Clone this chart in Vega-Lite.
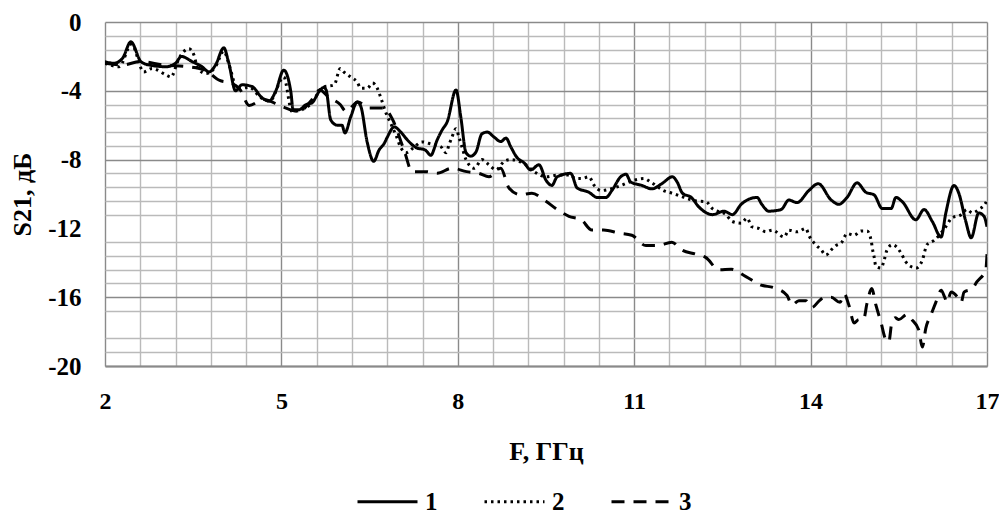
{
  "$schema": "https://vega.github.io/schema/vega-lite/v6.json",
  "width": 882,
  "height": 344,
  "padding": {"left": 9, "top": 10, "right": 0, "bottom": 5},
  "background": "white",
  "config": {"view": {"stroke": null}, "font": "Liberation Serif"},
  "data": {"values": [
    {"series":"1","f":2.0,"s":-2.3},{"series":"1","f":2.15,"s":-2.4},{"series":"1","f":2.3,"s":-2.1},{"series":"1","f":2.44,"s":-1.15},{"series":"1","f":2.61,"s":-2.3},{"series":"1","f":2.75,"s":-2.5},{"series":"1","f":3.04,"s":-2.6},{"series":"1","f":3.2,"s":-2.4},{"series":"1","f":3.3,"s":-2.0},{"series":"1","f":3.48,"s":-2.3},{"series":"1","f":3.65,"s":-2.6},{"series":"1","f":3.77,"s":-2.9},{"series":"1","f":3.88,"s":-2.5},{"series":"1","f":4.02,"s":-1.5},{"series":"1","f":4.1,"s":-2.3},{"series":"1","f":4.22,"s":-4.0},{"series":"1","f":4.33,"s":-3.65},{"series":"1","f":4.5,"s":-3.75},{"series":"1","f":4.67,"s":-4.4},{"series":"1","f":4.79,"s":-4.6},{"series":"1","f":4.9,"s":-4.05},{"series":"1","f":5.04,"s":-2.8},{"series":"1","f":5.16,"s":-4.05},{"series":"1","f":5.2,"s":-5.1},{"series":"1","f":5.3,"s":-5.1},{"series":"1","f":5.42,"s":-4.8},{"series":"1","f":5.52,"s":-4.7},{"series":"1","f":5.64,"s":-4.05},{"series":"1","f":5.72,"s":-3.8},{"series":"1","f":5.76,"s":-3.95},{"series":"1","f":5.84,"s":-5.7},{"series":"1","f":5.95,"s":-6.0},{"series":"1","f":6.03,"s":-6.0},{"series":"1","f":6.08,"s":-6.45},{"series":"1","f":6.18,"s":-5.5},{"series":"1","f":6.29,"s":-4.65},{"series":"1","f":6.35,"s":-4.9},{"series":"1","f":6.46,"s":-7.0},{"series":"1","f":6.57,"s":-8.1},{"series":"1","f":6.66,"s":-7.45},{"series":"1","f":6.75,"s":-7.05},{"series":"1","f":6.8,"s":-6.7},{"series":"1","f":6.92,"s":-6.1},{"series":"1","f":7.03,"s":-6.4},{"series":"1","f":7.14,"s":-6.85},{"series":"1","f":7.29,"s":-7.3},{"series":"1","f":7.45,"s":-7.45},{"series":"1","f":7.54,"s":-7.75},{"series":"1","f":7.65,"s":-6.85},{"series":"1","f":7.73,"s":-6.3},{"series":"1","f":7.82,"s":-5.8},{"series":"1","f":7.97,"s":-3.95},{"series":"1","f":8.05,"s":-5.5},{"series":"1","f":8.14,"s":-7.6},{"series":"1","f":8.22,"s":-7.8},{"series":"1","f":8.31,"s":-7.55},{"series":"1","f":8.41,"s":-6.5},{"series":"1","f":8.5,"s":-6.4},{"series":"1","f":8.62,"s":-6.7},{"series":"1","f":8.73,"s":-6.95},{"series":"1","f":8.82,"s":-6.75},{"series":"1","f":8.9,"s":-7.25},{"series":"1","f":9.0,"s":-7.85},{"series":"1","f":9.13,"s":-8.2},{"series":"1","f":9.24,"s":-8.6},{"series":"1","f":9.38,"s":-8.3},{"series":"1","f":9.5,"s":-9.2},{"series":"1","f":9.6,"s":-9.5},{"series":"1","f":9.69,"s":-9.0},{"series":"1","f":9.92,"s":-8.8},{"series":"1","f":10.03,"s":-9.65},{"series":"1","f":10.23,"s":-9.9},{"series":"1","f":10.37,"s":-10.2},{"series":"1","f":10.52,"s":-10.2},{"series":"1","f":10.62,"s":-9.8},{"series":"1","f":10.77,"s":-9.0},{"series":"1","f":10.86,"s":-8.85},{"series":"1","f":10.94,"s":-9.3},{"series":"1","f":11.13,"s":-9.5},{"series":"1","f":11.3,"s":-9.7},{"series":"1","f":11.47,"s":-9.4},{"series":"1","f":11.65,"s":-9.0},{"series":"1","f":11.73,"s":-9.3},{"series":"1","f":11.82,"s":-9.95},{"series":"1","f":11.97,"s":-10.2},{"series":"1","f":12.1,"s":-10.75},{"series":"1","f":12.33,"s":-11.2},{"series":"1","f":12.53,"s":-11.0},{"series":"1","f":12.67,"s":-11.2},{"series":"1","f":12.82,"s":-10.6},{"series":"1","f":12.92,"s":-10.35},{"series":"1","f":13.09,"s":-10.2},{"series":"1","f":13.17,"s":-10.6},{"series":"1","f":13.29,"s":-11.0},{"series":"1","f":13.5,"s":-10.9},{"series":"1","f":13.63,"s":-10.35},{"series":"1","f":13.77,"s":-10.5},{"series":"1","f":13.97,"s":-9.8},{"series":"1","f":14.13,"s":-9.4},{"series":"1","f":14.35,"s":-10.35},{"series":"1","f":14.48,"s":-10.6},{"series":"1","f":14.62,"s":-10.2},{"series":"1","f":14.79,"s":-9.35},{"series":"1","f":14.94,"s":-9.9},{"series":"1","f":15.08,"s":-10.05},{"series":"1","f":15.22,"s":-10.85},{"series":"1","f":15.37,"s":-10.85},{"series":"1","f":15.45,"s":-10.2},{"series":"1","f":15.56,"s":-10.45},{"series":"1","f":15.79,"s":-11.5},{"series":"1","f":15.93,"s":-10.9},{"series":"1","f":16.07,"s":-11.6},{"series":"1","f":16.22,"s":-12.5},{"series":"1","f":16.3,"s":-11.1},{"series":"1","f":16.44,"s":-9.5},{"series":"1","f":16.52,"s":-9.95},{"series":"1","f":16.64,"s":-11.6},{"series":"1","f":16.73,"s":-12.55},{"series":"1","f":16.86,"s":-11.1},{"series":"1","f":16.95,"s":-11.3},{"series":"1","f":17.0,"s":-11.9},

    {"series":"2","f":2.0,"s":-2.4},{"series":"2","f":2.24,"s":-2.6},{"series":"2","f":2.45,"s":-1.3},{"series":"2","f":2.66,"s":-2.9},{"series":"2","f":2.8,"s":-2.7},{"series":"2","f":3.05,"s":-3.1},{"series":"2","f":3.12,"s":-3.2},{"series":"2","f":3.26,"s":-2.1},{"series":"2","f":3.43,"s":-1.55},{"series":"2","f":3.51,"s":-1.9},{"series":"2","f":3.58,"s":-2.7},{"series":"2","f":3.72,"s":-3.0},{"series":"2","f":3.88,"s":-2.6},{"series":"2","f":4.02,"s":-1.7},{"series":"2","f":4.12,"s":-2.6},{"series":"2","f":4.25,"s":-3.9},{"series":"2","f":4.45,"s":-3.8},{"series":"2","f":4.65,"s":-4.4},{"series":"2","f":4.8,"s":-4.6},{"series":"2","f":5.04,"s":-3.2},{"series":"2","f":5.18,"s":-5.2},{"series":"2","f":5.35,"s":-5.1},{"series":"2","f":5.52,"s":-4.7},{"series":"2","f":5.7,"s":-3.8},{"series":"2","f":5.9,"s":-3.65},{"series":"2","f":6.0,"s":-2.7},{"series":"2","f":6.06,"s":-2.9},{"series":"2","f":6.18,"s":-3.2},{"series":"2","f":6.29,"s":-3.5},{"series":"2","f":6.35,"s":-3.85},{"series":"2","f":6.46,"s":-3.85},{"series":"2","f":6.55,"s":-3.55},{"series":"2","f":6.63,"s":-3.85},{"series":"2","f":6.7,"s":-4.5},{"series":"2","f":6.78,"s":-5.3},{"series":"2","f":6.86,"s":-5.9},{"series":"2","f":6.95,"s":-6.6},{"series":"2","f":7.03,"s":-7.3},{"series":"2","f":7.12,"s":-7.6},{"series":"2","f":7.25,"s":-7.3},{"series":"2","f":7.39,"s":-6.97},{"series":"2","f":7.55,"s":-7.1},{"series":"2","f":7.71,"s":-7.25},{"series":"2","f":7.8,"s":-7.6},{"series":"2","f":7.85,"s":-7.15},{"series":"2","f":7.9,"s":-6.7},{"series":"2","f":7.97,"s":-6.2},{"series":"2","f":8.02,"s":-6.7},{"series":"2","f":8.07,"s":-7.25},{"series":"2","f":8.14,"s":-8.0},{"series":"2","f":8.28,"s":-8.5},{"series":"2","f":8.41,"s":-8.0},{"series":"2","f":8.53,"s":-8.3},{"series":"2","f":8.65,"s":-8.6},{"series":"2","f":8.79,"s":-8.1},{"series":"2","f":8.9,"s":-8.0},{"series":"2","f":9.04,"s":-8.1},{"series":"2","f":9.16,"s":-8.3},{"series":"2","f":9.3,"s":-8.7},{"series":"2","f":9.5,"s":-9.0},{"series":"2","f":9.7,"s":-8.9},{"series":"2","f":9.9,"s":-8.9},{"series":"2","f":10.01,"s":-9.1},{"series":"2","f":10.11,"s":-9.1},{"series":"2","f":10.23,"s":-9.0},{"series":"2","f":10.32,"s":-9.5},{"series":"2","f":10.44,"s":-9.8},{"series":"2","f":10.6,"s":-9.7},{"series":"2","f":10.78,"s":-9.5},{"series":"2","f":11.0,"s":-9.2},{"series":"2","f":11.17,"s":-9.1},{"series":"2","f":11.28,"s":-9.3},{"series":"2","f":11.5,"s":-9.8},{"series":"2","f":11.64,"s":-9.95},{"series":"2","f":11.85,"s":-10.2},{"series":"2","f":12.05,"s":-10.4},{"series":"2","f":12.22,"s":-10.45},{"series":"2","f":12.33,"s":-10.85},{"series":"2","f":12.56,"s":-11.2},{"series":"2","f":12.67,"s":-11.6},{"series":"2","f":12.82,"s":-11.7},{"series":"2","f":12.92,"s":-11.4},{"series":"2","f":13.0,"s":-11.9},{"series":"2","f":13.12,"s":-12.0},{"series":"2","f":13.24,"s":-12.2},{"series":"2","f":13.35,"s":-12.1},{"series":"2","f":13.55,"s":-12.5},{"series":"2","f":13.63,"s":-12.1},{"series":"2","f":13.77,"s":-12.2},{"series":"2","f":13.92,"s":-12.0},{"series":"2","f":13.97,"s":-12.4},{"series":"2","f":14.06,"s":-12.85},{"series":"2","f":14.18,"s":-13.25},{"series":"2","f":14.26,"s":-13.55},{"series":"2","f":14.35,"s":-13.25},{"series":"2","f":14.43,"s":-13.0},{"series":"2","f":14.53,"s":-12.8},{"series":"2","f":14.62,"s":-12.3},{"series":"2","f":14.74,"s":-12.4},{"series":"2","f":14.86,"s":-12.15},{"series":"2","f":14.96,"s":-12.15},{"series":"2","f":15.03,"s":-12.7},{"series":"2","f":15.05,"s":-13.15},{"series":"2","f":15.08,"s":-13.65},{"series":"2","f":15.11,"s":-14.2},{"series":"2","f":15.2,"s":-14.3},{"series":"2","f":15.25,"s":-13.85},{"series":"2","f":15.3,"s":-13.25},{"series":"2","f":15.39,"s":-12.95},{"series":"2","f":15.47,"s":-13.1},{"series":"2","f":15.54,"s":-13.45},{"series":"2","f":15.62,"s":-13.95},{"series":"2","f":15.7,"s":-14.2},{"series":"2","f":15.8,"s":-14.3},{"series":"2","f":15.9,"s":-13.85},{"series":"2","f":15.98,"s":-12.95},{"series":"2","f":16.1,"s":-12.7},{"series":"2","f":16.3,"s":-11.9},{"series":"2","f":16.4,"s":-11.4},{"series":"2","f":16.56,"s":-11.2},{"series":"2","f":16.66,"s":-10.9},{"series":"2","f":16.75,"s":-11.1},{"series":"2","f":16.86,"s":-10.9},{"series":"2","f":16.98,"s":-10.5},{"series":"2","f":17.0,"s":-10.3},

    {"series":"3","f":2.0,"s":-2.4},{"series":"3","f":2.3,"s":-2.5},{"series":"3","f":2.6,"s":-2.3},{"series":"3","f":3.0,"s":-2.5},{"series":"3","f":3.4,"s":-2.6},{"series":"3","f":3.7,"s":-2.8},{"series":"3","f":3.95,"s":-3.4},{"series":"3","f":4.15,"s":-3.55},{"series":"3","f":4.3,"s":-3.95},{"series":"3","f":4.45,"s":-4.85},{"series":"3","f":4.7,"s":-4.5},{"series":"3","f":5.0,"s":-4.9},{"series":"3","f":5.3,"s":-5.2},{"series":"3","f":5.5,"s":-4.6},{"series":"3","f":5.65,"s":-3.95},{"series":"3","f":5.8,"s":-4.35},{"series":"3","f":6.0,"s":-4.8},{"series":"3","f":6.1,"s":-5.2},{"series":"3","f":6.3,"s":-4.65},{"series":"3","f":6.5,"s":-5.0},{"series":"3","f":6.75,"s":-5.0},{"series":"3","f":6.88,"s":-5.6},{"series":"3","f":7.1,"s":-7.6},{"series":"3","f":7.22,"s":-8.7},{"series":"3","f":7.45,"s":-8.7},{"series":"3","f":7.65,"s":-8.8},{"series":"3","f":7.9,"s":-8.5},{"series":"3","f":8.15,"s":-8.7},{"series":"3","f":8.36,"s":-8.8},{"series":"3","f":8.53,"s":-9.0},{"series":"3","f":8.73,"s":-8.5},{"series":"3","f":8.87,"s":-9.65},{"series":"3","f":9.07,"s":-10.05},{"series":"3","f":9.26,"s":-9.95},{"series":"3","f":9.47,"s":-10.35},{"series":"3","f":9.69,"s":-10.9},{"series":"3","f":9.89,"s":-11.3},{"series":"3","f":10.1,"s":-11.5},{"series":"3","f":10.28,"s":-12.1},{"series":"3","f":10.48,"s":-12.1},{"series":"3","f":10.74,"s":-12.27},{"series":"3","f":10.96,"s":-12.4},{"series":"3","f":11.2,"s":-13.0},{"series":"3","f":11.4,"s":-13.0},{"series":"3","f":11.64,"s":-12.8},{"series":"3","f":11.81,"s":-13.25},{"series":"3","f":12.05,"s":-13.5},{"series":"3","f":12.22,"s":-13.7},{"series":"3","f":12.44,"s":-14.4},{"series":"3","f":12.65,"s":-14.37},{"series":"3","f":12.9,"s":-14.8},{"series":"3","f":13.16,"s":-15.3},{"series":"3","f":13.38,"s":-15.45},{"series":"3","f":13.6,"s":-15.9},{"series":"3","f":13.68,"s":-16.45},{"series":"3","f":13.8,"s":-16.2},{"series":"3","f":13.92,"s":-16.2},{"series":"3","f":14.02,"s":-16.6},{"series":"3","f":14.15,"s":-16.2},{"series":"3","f":14.23,"s":-16.0},{"series":"3","f":14.35,"s":-16.0},{"series":"3","f":14.5,"s":-16.3},{"series":"3","f":14.57,"s":-15.8},{"series":"3","f":14.65,"s":-16.45},{"series":"3","f":14.74,"s":-17.5},{"series":"3","f":14.82,"s":-17.3},{"series":"3","f":14.9,"s":-17.3},{"series":"3","f":14.96,"s":-16.35},{"series":"3","f":15.04,"s":-15.5},{"series":"3","f":15.11,"s":-16.45},{"series":"3","f":15.2,"s":-17.5},{"series":"3","f":15.27,"s":-18.4},{"series":"3","f":15.33,"s":-18.6},{"series":"3","f":15.38,"s":-17.5},{"series":"3","f":15.44,"s":-17.2},{"series":"3","f":15.5,"s":-17.3},{"series":"3","f":15.64,"s":-17.0},{"series":"3","f":15.72,"s":-17.3},{"series":"3","f":15.84,"s":-17.9},{"series":"3","f":15.9,"s":-18.9},{"series":"3","f":15.96,"s":-17.8},{"series":"3","f":16.05,"s":-17.0},{"series":"3","f":16.13,"s":-16.3},{"series":"3","f":16.22,"s":-15.6},{"series":"3","f":16.28,"s":-16.0},{"series":"3","f":16.32,"s":-16.3},{"series":"3","f":16.39,"s":-15.7},{"series":"3","f":16.5,"s":-16.0},{"series":"3","f":16.56,"s":-16.3},{"series":"3","f":16.61,"s":-15.7},{"series":"3","f":16.75,"s":-15.5},{"series":"3","f":16.83,"s":-15.1},{"series":"3","f":16.98,"s":-14.4},{"series":"3","f":17.0,"s":-13.5}
  ]},
  "mark": {"type": "line", "interpolate": "monotone", "strokeWidth": 3, "color": "black", "clip": true},
  "encoding": {
    "x": {
      "field": "f", "type": "quantitative",
      "scale": {"domain": [2, 17], "nice": false, "zero": false},
      "axis": {
        "values": [2,2.6,3.2,3.8,4.4,5,5.6,6.2,6.8,7.4,8,8.6,9.2,9.8,10.4,11,11.6,12.2,12.8,13.4,14,14.6,15.2,15.8,16.4,17],
        "labelExpr": "abs((datum.value-2)/3 - round((datum.value-2)/3)) < 0.01 ? toString(datum.value) : ''",
        "grid": true,
        "gridColor": {"condition": {"test": "abs((datum.value-2)/3 - round((datum.value-2)/3)) < 0.01", "value": "#8a8a8a"}, "value": "#bababa"},
        "gridWidth": 1.4,
        "ticks": false,
        "domain": true, "domainColor": "#8a8a8a", "domainWidth": 2,
        "labelFont": "Liberation Serif", "labelFontSize": 24, "labelFontWeight": "bold", "labelColor": "black",
        "labelPadding": 23, "labelFlush": false, "labelOverlap": false,
        "title": "F, ГГц", "titleFont": "Liberation Serif", "titleFontSize": 26, "titleFontWeight": "bold", "titleColor": "black", "titlePadding": 25
      }
    },
    "y": {
      "field": "s", "type": "quantitative",
      "scale": {"domain": [-20, 0], "nice": false, "zero": false},
      "axis": {
        "values": [0,-0.8,-1.6,-2.4,-3.2,-4,-4.8,-5.6,-6.4,-7.2,-8,-8.8,-9.6,-10.4,-11.2,-12,-12.8,-13.6,-14.4,-15.2,-16,-16.8,-17.6,-18.4,-19.2,-20],
        "labelExpr": "abs(datum.value/4 - round(datum.value/4)) < 0.001 ? toString(datum.value) : ''",
        "grid": true,
        "gridColor": {"condition": {"test": "abs(datum.value/4 - round(datum.value/4)) < 0.001", "value": "#8a8a8a"}, "value": "#bababa"},
        "gridOpacity": {"condition": {"test": "datum.value == -3.2 || datum.value == -12 || datum.value == -17.6", "value": 0}, "value": 1},
        "gridWidth": 1.4,
        "ticks": false, "domain": false,
        "labelFont": "Liberation Serif", "labelFontSize": 25, "labelFontWeight": "bold", "labelColor": "black",
        "labelPadding": 24, "labelFlush": false, "labelOverlap": false,
        "title": "S21, дБ", "titleFont": "Liberation Serif", "titleFontSize": 26, "titleFontWeight": "bold", "titleColor": "black", "titlePadding": 12
      }
    },
    "strokeDash": {
      "field": "series", "type": "nominal",
      "scale": {"domain": ["1", "2", "3"], "range": [[1, 0], [2.5, 4], [13, 9]]},
      "legend": {
        "orient": "none", "legendX": 251, "legendY": 448, "direction": "horizontal", "title": null,
        "symbolType": "stroke", "symbolSize": 3600, "symbolStrokeWidth": 3, "symbolStrokeColor": "black",
        "labelFont": "Liberation Serif", "labelFontSize": 25, "labelFontWeight": "bold", "labelColor": "black",
        "labelOffset": 6, "columnPadding": 40
      }
    }
  }
}
